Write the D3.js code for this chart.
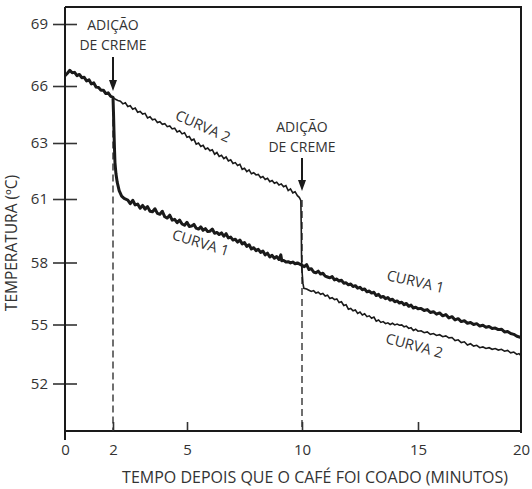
<!DOCTYPE html>
<html>
<head>
<meta charset="utf-8">
<script src="https://cdn.jsdelivr.net/npm/d3@7"></script>
<style>
  html, body { margin: 0; padding: 0; background: #fff; }
  svg { display: block; }
  text { font-family: "Open Sans", "Noto Sans", sans-serif; fill: #333; }
</style>
</head>
<body>
<svg id="chart" width="532" height="489"></svg>
<script>
// ---------- DATA ----------
const xTickValues = [0, 2, 5, 10, 15, 20];
const yTickValues = [52, 55, 58, 61, 63, 66, 69];
const yTickLabels = ["52", "55", "58", "61", "63", "66", "69"];
const creamTimes = [2, 10];

// Curve 1 (thick): cream added at 2 min
const curve1Time = [0, 0.1, 0.2, 0.3, 0.4, 0.5, 0.6, 0.7, 0.8, 0.9, 1.0, 1.1, 1.2, 1.3, 1.4, 1.5, 1.6, 1.7, 1.8, 1.9, 2.0,
  2.02, 2.04, 2.06, 2.08, 2.12, 2.17, 2.25, 2.35, 2.45, 2.6, 2.7, 2.8, 2.9, 3.0, 3.1, 3.2, 3.3, 3.4, 3.5, 3.6, 3.7, 3.8, 3.9,
  4.0, 4.1, 4.2, 4.3, 4.4, 4.5, 4.6, 4.7, 4.8, 4.9, 5.0, 5.1, 5.2, 5.3, 5.4, 5.5, 5.6, 5.7, 5.8, 5.9, 6.0, 6.1, 6.2, 6.3, 6.4,
  6.5, 6.6, 6.7, 6.8, 6.9, 7.0, 7.1, 7.2, 7.3, 7.4, 7.5, 7.6, 7.7, 7.8, 7.9, 8.0, 8.1, 8.2, 8.3, 8.4, 8.5, 8.6, 8.7, 8.8,
  8.9, 9.0, 9.08, 9.12, 9.2, 9.3, 9.4, 9.5, 9.6, 9.7, 9.8, 9.9, 10.0,
  10.1, 10.2, 10.3, 10.4, 10.5, 10.6, 10.7, 10.8, 10.9, 11.0, 11.1, 11.2, 11.3, 11.4, 11.5, 11.6, 11.7, 11.8, 11.9, 12.0,
  12.1, 12.2, 12.3, 12.4, 12.5, 12.6, 12.7, 12.8, 12.9, 13.0, 13.1, 13.2, 13.3, 13.4, 13.5, 13.6, 13.7, 13.8, 13.9,
  14.0, 14.1, 14.2, 14.3, 14.4, 14.5, 14.6, 14.7, 14.8, 14.9, 15.0, 15.15, 15.3, 15.45, 15.6, 15.75, 15.9, 16.05, 16.2,
  16.35, 16.5, 16.65, 16.8, 16.95, 17.1, 17.25, 17.4, 17.55, 17.7, 17.85, 18.0, 18.15, 18.3, 18.45, 18.6, 18.75, 18.9,
  19.05, 19.2, 19.35, 19.5, 19.65, 19.8, 20.0];
const curve1Temp = [66.50, 66.62, 66.76, 66.64, 66.66, 66.50, 66.56, 66.40, 66.42, 66.24, 66.30, 66.10, 66.15, 65.94, 65.92, 65.78, 65.78, 65.60, 65.64, 65.46, 65.40,
  64.6, 63.6, 62.8, 62.3, 61.9, 61.6, 61.3, 61.1, 61.02, 60.95, 60.78, 60.94, 60.72, 60.76, 60.56, 60.70, 60.52, 60.64, 60.42, 60.40, 60.54, 60.32, 60.28,
  60.42, 60.16, 60.10, 60.24, 60.00, 60.04, 59.88, 60.00, 59.82, 59.76, 59.90, 59.70, 59.72, 59.80, 59.62, 59.58, 59.68, 59.52, 59.60, 59.46, 59.48, 59.58, 59.38, 59.42, 59.32,
  59.40, 59.24, 59.36, 59.16, 59.20, 59.06, 59.10, 58.96, 59.06, 58.88, 58.94, 58.76, 58.84, 58.64, 58.70, 58.56, 58.62, 58.48, 58.54, 58.36, 58.44, 58.26, 58.34, 58.20,
  58.28, 58.14, 58.36, 58.08, 58.10, 58.02, 58.04, 57.98, 58.02, 57.94, 57.98, 57.92, 57.86,
  57.80, 57.90, 57.66, 57.70, 57.54, 57.50, 57.58, 57.44, 57.48, 57.34, 57.30, 57.26, 57.32, 57.16, 57.20, 57.10, 57.14, 57.00, 57.02, 56.92,
  56.96, 56.84, 56.88, 56.76, 56.80, 56.68, 56.72, 56.58, 56.62, 56.52, 56.56, 56.40, 56.46, 56.32, 56.36, 56.25, 56.30, 56.18, 56.22,
  56.10, 56.14, 56.04, 56.08, 55.96, 56.02, 55.88, 55.94, 55.80, 55.84, 55.76, 55.78, 55.68, 55.72, 55.58, 55.62, 55.50, 55.56, 55.42,
  55.48, 55.32, 55.38, 55.22, 55.28, 55.14, 55.18, 55.06, 55.10, 55.00, 55.04, 54.92, 54.96, 54.86, 54.90, 54.80, 54.82, 54.74,
  54.76, 54.62, 54.64, 54.54, 54.50, 54.40, 54.34];

// Curve 2 (thin): cream added at 10 min
const curve2Time = [0, 0.1, 0.2, 0.3, 0.4, 0.5, 0.6, 0.7, 0.8, 0.9, 1.0, 1.1, 1.2, 1.3, 1.4, 1.5, 1.6, 1.7, 1.8, 1.9, 2.0,
  2.1, 2.2, 2.3, 2.4, 2.5, 2.6, 2.7, 2.8, 2.9, 3.0, 3.1, 3.2, 3.3, 3.4, 3.5, 3.6, 3.7, 3.8, 3.9, 4.0, 4.1, 4.2, 4.3, 4.4,
  4.5, 4.6, 4.7, 4.8, 4.9, 5.0, 5.1, 5.2, 5.3, 5.4, 5.5, 5.6, 5.7, 5.8, 5.9, 6.0, 6.1, 6.2, 6.3, 6.4, 6.5, 6.6, 6.7, 6.8, 6.9,
  7.0, 7.1, 7.2, 7.3, 7.4, 7.5, 7.6, 7.7, 7.8, 7.9, 8.0, 8.1, 8.2, 8.3, 8.4, 8.5, 8.6, 8.7, 8.8, 8.9, 9.0, 9.1, 9.2, 9.3,
  9.4, 9.5, 9.6, 9.7, 9.8, 9.88, 9.92, 9.95,
  9.97, 9.98, 10.0, 10.04, 10.08, 10.2, 10.3, 10.4, 10.5, 10.6, 10.7, 10.8, 10.9, 11.0, 11.1, 11.2, 11.3, 11.4, 11.5, 11.6,
  11.7, 11.8, 11.9, 12.0, 12.1, 12.2, 12.3, 12.4, 12.5, 12.6, 12.7, 12.8, 12.9, 13.0, 13.1, 13.2, 13.3, 13.4, 13.5, 13.6,
  13.7, 13.8, 13.9, 14.0, 14.1, 14.2, 14.3, 14.4, 14.5, 14.6, 14.7, 14.8, 14.9, 15.0, 15.15, 15.3, 15.45, 15.6, 15.75,
  15.9, 16.05, 16.2, 16.35, 16.5, 16.65, 16.8, 16.95, 17.1, 17.25, 17.4, 17.55, 17.7, 17.85, 18.0, 18.15, 18.3, 18.45,
  18.6, 18.75, 18.9, 19.05, 19.2, 19.35, 19.5, 19.65, 19.8, 19.9, 20.0];
const curve2Temp = [66.50, 66.62, 66.76, 66.64, 66.66, 66.50, 66.56, 66.40, 66.42, 66.24, 66.30, 66.10, 66.15, 65.94, 65.92, 65.78, 65.78, 65.60, 65.64, 65.46, 65.40,
  65.30, 65.24, 65.20, 65.06, 65.12, 64.92, 64.96, 64.78, 64.84, 64.62, 64.66, 64.52, 64.56, 64.32, 64.38, 64.22, 64.26, 64.08, 64.12, 63.98, 64.02, 63.86, 63.90, 63.74,
  63.78, 63.58, 63.64, 63.48, 63.54, 63.30, 63.34, 63.14, 63.20, 62.96, 63.00, 62.88, 62.92, 62.78, 62.82, 62.72, 62.76, 62.60, 62.66, 62.52, 62.56, 62.44, 62.50, 62.36, 62.40,
  62.27, 62.30, 62.20, 62.24, 62.06, 62.10, 61.98, 62.04, 61.90, 61.94, 61.86, 61.88, 61.76, 61.80, 61.70, 61.74, 61.62, 61.66, 61.56, 61.60, 61.50, 61.54, 61.44, 61.48,
  61.30, 61.36, 61.22, 61.26, 61.12, 61.06, 61.00, 60.92,
  59.5, 58.3, 57.6, 57.0, 56.75, 56.72, 56.66, 56.60, 56.64, 56.52, 56.56, 56.46, 56.50, 56.38, 56.42, 56.26, 56.30, 56.20, 56.24, 56.06,
  56.10, 55.92, 55.96, 55.74, 55.78, 55.66, 55.70, 55.54, 55.60, 55.46, 55.52, 55.38, 55.42, 55.30, 55.36, 55.16, 55.22, 55.10, 55.14, 55.04,
  55.08, 55.00, 55.06, 54.98, 55.02, 54.96, 54.98, 54.88, 54.92, 54.80, 54.84, 54.70, 54.76, 54.66, 54.68, 54.58, 54.62, 54.50, 54.54,
  54.44, 54.48, 54.38, 54.42, 54.32, 54.34, 54.18, 54.22, 54.08, 54.12, 53.96, 54.02, 53.90, 53.94, 53.82, 53.86, 53.78, 53.82,
  53.74, 53.78, 53.70, 53.74, 53.64, 53.68, 53.56, 53.60, 53.48, 53.52, 53.42];

const curveLabels = ["CURVA 1", "CURVA 2"];
const annotationLines = ["ADIÇÃO", "DE CREME"];
const xTitle = "TEMPO DEPOIS QUE O CAFÉ FOI COADO (MINUTOS)";
const yTitle = "TEMPERATURA (ºC)";

// ---------- SCALES ----------
const svg = d3.select("#chart");
const x = d3.scaleLinear()
  .domain([0, 2, 5, 10, 15, 20])
  .range([65, 113, 187, 302, 418, 521]);
const y = d3.scaleLinear()
  .domain([49.6, 52, 55, 58, 61, 63, 66, 69, 69.82])
  .range([431, 383.5, 324.5, 262.5, 199, 143, 86, 24, 7]);

const [x0, x1] = [x(0), x(20)];
const [yb, yt] = [y(49.6), y(69.82)];
const ink = "#1a1a1a";

// frame (top & right)
svg.append("path")
  .attr("d", `M${x0},${yt}H${x1}V${yb + 2}`)
  .attr("fill", "none").attr("stroke", ink).attr("stroke-width", 2);

// ---------- AXES ----------
const yAxis = d3.axisLeft(y).tickValues(yTickValues)
  .tickFormat((d, i) => yTickLabels[i]).tickSize(12).tickPadding(5);
const gy = svg.append("g").attr("transform", `translate(${x0},0)`).call(yAxis);
gy.select(".domain").remove();
gy.selectAll(".tick line").attr("x1", 12).attr("x2", -12).attr("stroke", "#333").attr("stroke-width", 1.6);
gy.selectAll(".tick text").attr("font-size", 15).attr("fill", "#333")
  .attr("font-family", "'Open Sans', sans-serif");
svg.append("line").attr("x1", x0).attr("x2", x0).attr("y1", yt).attr("y2", yb + 9)
  .attr("stroke", ink).attr("stroke-width", 2);

const xAxis = d3.axisBottom(x).tickValues(xTickValues).tickSize(0).tickPadding(13);
const gx = svg.append("g").attr("transform", `translate(0,${yb})`).call(xAxis);
gx.select(".domain").remove();
gx.selectAll(".tick text").attr("font-size", 15).attr("fill", "#333")
  .attr("font-family", "'Open Sans', sans-serif");
gx.selectAll(".tick").filter(d => d > 0 && d < 20).append("line")
  .attr("y1", 0).attr("y2", -9).attr("stroke", "#333").attr("stroke-width", 1.6);
svg.append("line").attr("x1", x0).attr("x2", x1 + 1).attr("y1", yb).attr("y2", yb)
  .attr("stroke", ink).attr("stroke-width", 2);

// axis titles
svg.append("text").attr("x", 315).attr("y", 483).attr("text-anchor", "middle")
  .attr("font-size", 16).text(xTitle);
svg.append("text").attr("transform", `translate(17,243) rotate(-90)`)
  .attr("text-anchor", "middle").attr("font-size", 15.5).text(yTitle);

// ---------- DASHED LINES ----------
const c2 = curve2Time.map((t, i) => [t, curve2Temp[i]]);
const c1 = curve1Time.map((t, i) => [t, curve1Temp[i]]);
const dashTop = [65.40, 60.95];
creamTimes.forEach((t, i) => {
  svg.append("line").attr("x1", x(t)).attr("x2", x(t))
    .attr("y1", y(dashTop[i])).attr("y2", yb)
    .attr("stroke", "#333").attr("stroke-width", 1.4).attr("stroke-dasharray", "7,4");
});

// ---------- CURVES ----------
const line = d3.line().x(d => x(d[0])).y(d => y(d[1]));
svg.append("path").datum(c2).attr("d", line).attr("fill", "none")
  .attr("stroke", ink).attr("stroke-width", 1.6).attr("stroke-linejoin", "miter");
svg.append("path").datum(c1).attr("d", line).attr("fill", "none")
  .attr("stroke", ink).attr("stroke-width", 3).attr("stroke-linejoin", "round");

// ---------- ANNOTATIONS ----------
const annY = [[30, 50, 57, 91], [132, 152, 158, 191]];
creamTimes.forEach((t, i) => {
  const cx = x(t);
  const [b1, b2, a0, a1] = annY[i];
  svg.append("text").attr("x", cx).attr("y", b1).attr("text-anchor", "middle")
    .attr("font-size", 14).text(annotationLines[0]);
  svg.append("text").attr("x", cx).attr("y", b2).attr("text-anchor", "middle")
    .attr("font-size", 14).text(annotationLines[1]);
  svg.append("line").attr("x1", cx).attr("x2", cx).attr("y1", a0).attr("y2", a1 - 8)
    .attr("stroke", ink).attr("stroke-width", 2);
  svg.append("path").attr("d", `M${cx - 4},${a1 - 11}L${cx + 4},${a1 - 11}L${cx},${a1}Z`)
    .attr("fill", ink);
});

// curve labels
const labelPos = [
  {txt: curveLabels[1], t: 5.7, v: 63.9, rot: 24},
  {txt: curveLabels[0], t: 5.6, v: 58.95, rot: 17},
  {txt: curveLabels[0], t: 14.9, v: 57.1, rot: 13},
  {txt: curveLabels[1], t: 14.85, v: 53.95, rot: 15}
];
labelPos.forEach(p => {
  svg.append("text")
    .attr("transform", `translate(${x(p.t)},${y(p.v)}) rotate(${p.rot})`)
    .attr("text-anchor", "middle").attr("dominant-baseline", "central")
    .attr("font-size", 14.5).text(p.txt);
});
</script>
</body>
</html>
